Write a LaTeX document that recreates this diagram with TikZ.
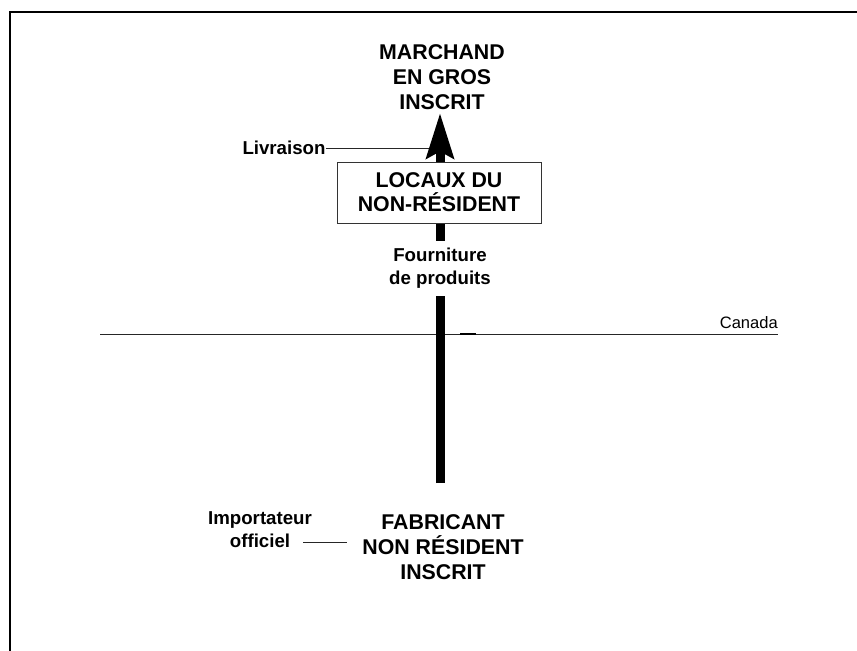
\documentclass[tikz,border=0pt]{standalone}
\usepackage{fontspec}
\setmainfont{Liberation Sans}
\usetikzlibrary{arrows.meta}
\begin{document}
\begin{tikzpicture}[x=0.75pt,y=-0.75pt,
  big/.style={font=\fontsize{16}{18.75}\selectfont\bfseries, align=center, inner sep=0pt},
  small/.style={font=\fontsize{14}{17.25}\selectfont\bfseries, align=center, inner sep=0pt},
  thinline/.style={line width=0.75pt, draw=black!85},
  frameline/.style={line width=1.5pt},
  flow/.style={line width=6.75pt, -{Stealth[length=33.75pt,width=20.25pt,inset=5pt]}},
  placebox/.style={draw=black!80, line width=0.75pt, fill=white, minimum width=153pt, minimum height=45.75pt, align=center, inner sep=0pt, font=\fontsize{16}{18}\selectfont\bfseries},
]
\useasboundingbox (0,0) rectangle (857,650);
% frame
\draw[frameline] (10,651) -- (10,12) -- (858,12);

% nodes
\node[big] (mar) at (442,77) {MARCHAND\\EN GROS\\INSCRIT};
\node[big] (fab) at (443,547) {FABRICANT\\NON RÉSIDENT\\INSCRIT};
\node[small] (liv) at (284,148) {Livraison};
\node[small] (imp) at (260,530) {Importateur\\officiel};
\node[font=\fontsize{12.4}{14}\selectfont, anchor=base east, inner sep=0pt] (can) at (778,328) {Canada};

% Canada border line
\coordinate (bl) at (100,334);
\coordinate (br) at (778,334);
\draw[thinline] (bl) -- (br);
\draw[line width=1.5pt] (460,334) -- (476,334);

% Livraison leader
\coordinate (livend) at (440,148);
\draw[thinline] (liv.east) -- (livend);

% Importateur leader
\coordinate (ia) at (303,542);
\coordinate (ib) at (347,542);
\draw[thinline] (ia) -- (ib);

% main flow arrow
\draw[flow, shorten <=48pt, shorten >=27pt] (fab.center -| 440,0) -- (mar.center -| 440,0);

% box and label over the arrow
\node[placebox] (box) at (439,192.5) {LOCAUX DU\\NON-RÉSIDENT};
\node[small, fill=white, minimum height=41.25pt, inner xsep=2pt] (four) at (440,268) {Fourniture\\de produits};
\end{tikzpicture}
\end{document}
